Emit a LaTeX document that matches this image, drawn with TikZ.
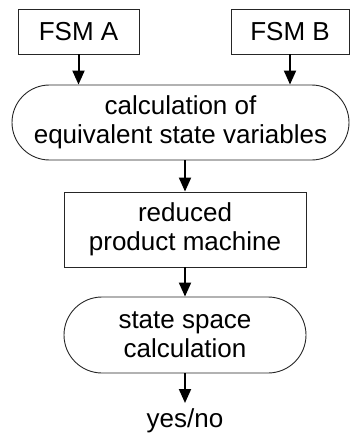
\documentclass[tikz,border=0pt]{standalone}
\usepackage{fontspec}
\setmainfont{Liberation Sans}
\usetikzlibrary{shapes.misc,arrows.meta}
\begin{document}
\begin{tikzpicture}[x=1pt,y=-1pt,
  every node/.style={font=\fontsize{26}{28.7}\selectfont, align=center, inner sep=0pt},
  box/.style={draw=black!85, line width=0.9pt, rectangle},
  pill/.style={draw=black!85, line width=0.9pt, rounded rectangle},
  flow/.style={line width=2pt, -{Triangle[length=14pt,width=12pt]}}]
\useasboundingbox (0,0) rectangle (350,433);
\node[box, minimum width=121pt, minimum height=45pt] (a) at (78.5,31.5) {FSM A};
\node[box, minimum width=118pt, minimum height=45pt] (b) at (290,31.5) {FSM B};
\node[pill, minimum width=337pt, minimum height=75pt] (calc) at (180.5,122.5) {calculation of\\equivalent state variables};
\node[box, minimum width=242pt, minimum height=75pt] (red) at (185,229.5) {reduced\\product machine};
\node[pill, minimum width=242pt, minimum height=76pt] (ss) at (185,335) {state space\\calculation};
\node[anchor=base] (yn) at (185,427) {yes/no};
\coordinate (ynt) at (185,403);
\draw[flow] (a.south) -- (a.south |- calc.north);
\draw[flow] (b.south) -- (b.south |- calc.north);
\draw[flow] (calc.south -| red.north) -- (red.north);
\draw[flow] (red.south) -- (ss.north);
\draw[flow] (ss.south) -- (ynt);
\end{tikzpicture}
\end{document}
